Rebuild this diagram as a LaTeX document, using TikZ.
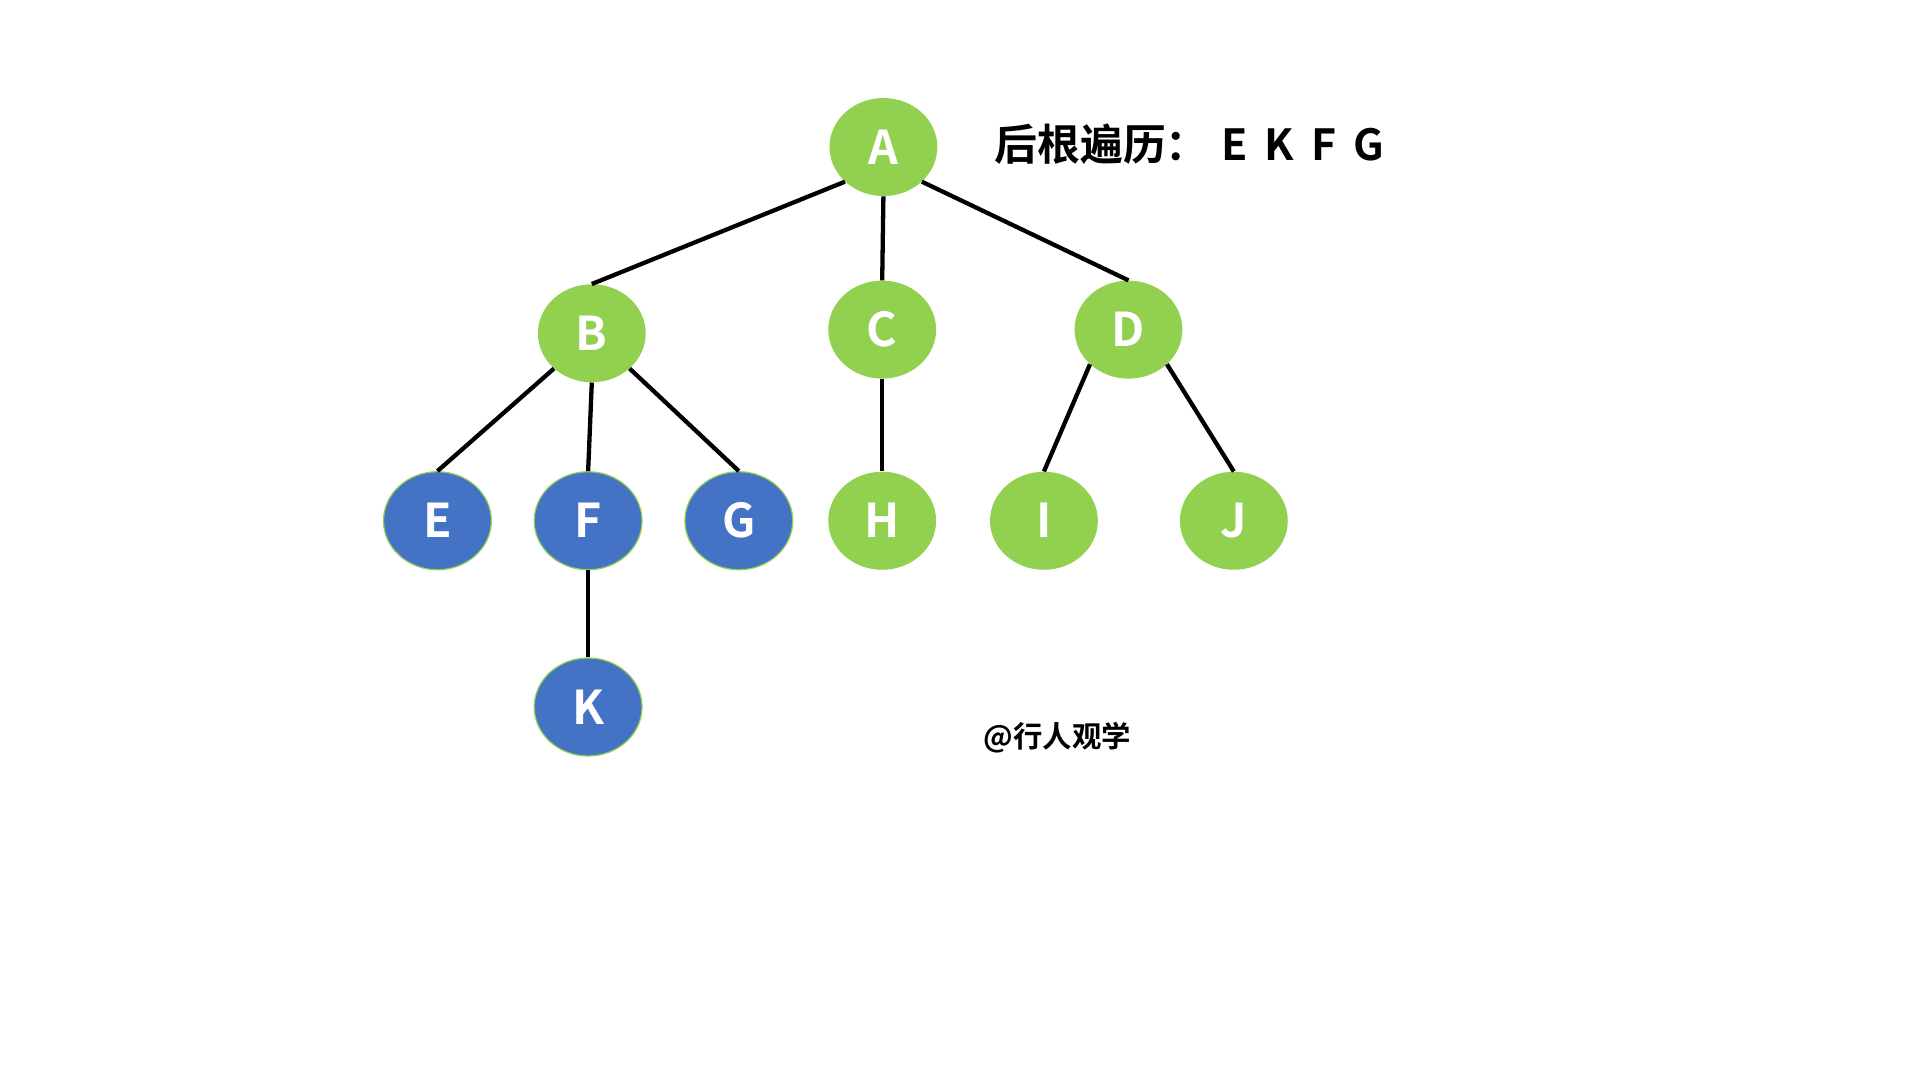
\documentclass[tikz,border=0pt]{standalone}
\usepackage{fontspec}
\usetikzlibrary{shapes.geometric}
\newfontfamily\cjk{Noto Sans CJK SC}[BoldFont={* Bold}]
\definecolor{gn}{HTML}{92D050}
\definecolor{bl}{HTML}{4472C4}
\begin{document}
\begin{tikzpicture}[x=1pt,y=-1pt,
  gnode/.style={ellipse,fill=gn,minimum width=88pt,minimum height=80pt,inner sep=0pt,text=white,font=\cjk\bfseries\fontsize{38}{40}\selectfont},
  bnode/.style={gnode,fill=bl,draw=gn,line width=1pt},
  edge/.style={line width=3.5pt,black}]
\useasboundingbox[fill=white] (0,0) rectangle (1567,881.4);
\node[gnode] (A) at (721,120) {A};
\node[gnode] (B) at (483,272) {B};
\node[gnode] (C) at (720,269) {C};
\node[gnode] (D) at (921,269) {D};
\node[bnode] (E) at (357,425) {E};
\node[bnode] (F) at (480,425) {F};
\node[bnode] (G) at (603,425) {G};
\node[gnode] (H) at (720,425) {H};
\node[gnode] (I) at (852,425) {I};
\node[gnode] (J) at (1007,425) {J};
\node[bnode] (K) at (480,577) {K};
\draw[edge] (A.-138) -- (B.north); \draw[edge] (A.south) -- (C.north); \draw[edge] (A.-42) -- (D.north);
\draw[edge] (B.-137) -- (E.north); \draw[edge] (B.south) -- (F.north); \draw[edge] (B.-43) -- (G.north);
\draw[edge] (C.south) -- (H.north); \draw[edge] (D.-138) -- (I.north); \draw[edge] (D.-42) -- (J.north);
\draw[edge] (F.south) -- (K.north);
\node[anchor=west,font=\cjk\bfseries\fontsize{35}{37}\selectfont] (T) at (808,118) {后根遍历：\hspace{10pt}E\hspace{14pt}K\hspace{14pt}F\hspace{14pt}G};
\node[font=\cjk\bfseries\fontsize{24}{26}\selectfont] (W) at (863,602) {@行人观学};
\end{tikzpicture}
\end{document}
